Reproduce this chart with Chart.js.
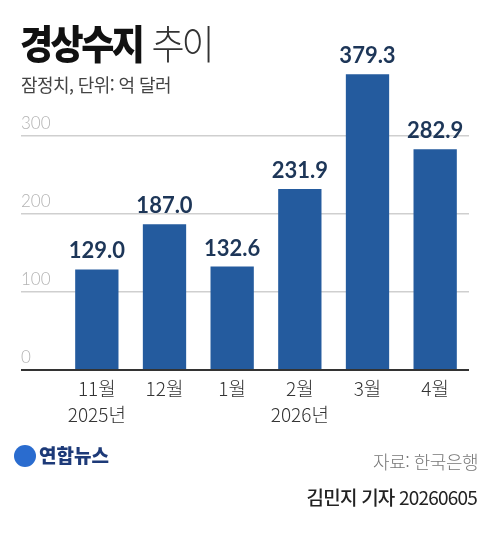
<!DOCTYPE html>
<html lang="ko">
<head>
<meta charset="utf-8">
<script src="https://cdn.jsdelivr.net/npm/chart.js@4.4.1/dist/chart.umd.min.js"></script>
<style>
  html, body { margin: 0; padding: 0; background: #fff; }
  body { width: 499px; height: 542px; position: relative; overflow: hidden; font-family: "Noto Sans CJK KR", "Noto Sans", sans-serif; }
  #wrap { position: absolute; left: 0; top: 0; width: 499px; height: 542px; }
  .txt { position: absolute; white-space: nowrap; line-height: 1; }
  #title { left: 20px; top: 22px; font-size: 36px; color: #111; transform: scaleY(1.1); transform-origin: 0 0; }
  #title b { font-weight: 900; letter-spacing: -2.5px; }
  #title span { font-weight: 300; color: #333; letter-spacing: -3px; margin-left: 9px; }
  #sub { left: 21px; top: 75px; font-size: 18px; color: #444; font-weight: 400; letter-spacing: -0.6px; }
  #logo { left: 14px; top: 445px; font-size: 19px; font-weight: 900; color: #1d3a78; }
  #logo i { display: inline-block; width: 22px; height: 22px; border-radius: 50%; background: #2a6ccf; vertical-align: -4px; margin-right: 3px; }
  #src { right: 21px; top: 452px; font-size: 18px; color: #777; font-weight: 300; letter-spacing: -0.5px; }
  #by { right: 22px; top: 487px; font-size: 19px; color: #222; font-weight: 400; letter-spacing: -0.8px; }
  #by b { font-weight: 500; }
</style>
</head>
<body>
<div id="wrap"><canvas id="barChart" width="499" height="542"></canvas></div>
<div class="txt" id="title"><b>경상수지</b><span>추이</span></div>
<div class="txt" id="sub">잠정치, 단위: 억 달러</div>
<div class="txt" id="logo"><i></i>연합뉴스</div>
<div class="txt" id="src">자료: 한국은행</div>
<div class="txt" id="by"><b>김민지 기자</b> 20260605</div>
<script>
// 월별 경상수지 (억 달러)
const months = ['11월', '12월', '1월', '2월', '3월', '4월'];
const years = ['2025년', '', '', '2026년', '', ''];
const values = [129.0, 187.0, 132.6, 231.9, 379.3, 282.9];
const yTicks = [0, 100, 200, 300];

const labels = months.map((m, i) => years[i] ? [m, years[i]] : [m]);

// 막대 위 값 표시
const valueLabels = {
    id: 'valueLabels',
    afterDatasetsDraw(chart) {
        const ctx = chart.ctx;
        const meta = chart.getDatasetMeta(0);
        ctx.save();
        ctx.font = 'bold 22px Lato, "Noto Sans", sans-serif';
        ctx.fillStyle = '#1d3658';
        ctx.textAlign = 'center';
        ctx.textBaseline = 'bottom';
        meta.data.forEach((bar, i) => {
            ctx.fillText(values[i].toFixed(1), bar.x, bar.y - 7);
        });
        ctx.restore();
    }
};

const barChart = new Chart(document.getElementById('barChart'), {
    type: 'bar',
    data: {
        labels: labels,
        datasets: [{
            data: values,
            backgroundColor: '#245b9e',
            barPercentage: 0.64,
            categoryPercentage: 1
        }]
    },
    options: {
        responsive: false,
        animation: false,
        layout: { padding: { left: 21, right: 30, top: 58, bottom: 112 } },
        plugins: { legend: { display: false }, tooltip: { enabled: false } },
        scales: {
            x: {
                grid: { display: false, drawTicks: false },
                border: { display: false },
                ticks: {
                    color: '#333',
                    padding: 5,
                    font: { family: '"Noto Sans CJK KR", sans-serif', size: 19, weight: 300, lineHeight: 1.4 }
                },
                afterFit: (scale) => { scale.height = 60; }
            },
            y: {
                min: 0,
                max: 400,
                afterBuildTicks: (scale) => { scale.ticks = yTicks.map(v => ({ value: v })); },
                grid: {
                    color: (c) => c.tick && c.tick.value === 0 ? '#333' : '#cfcfcf',
                    lineWidth: (c) => c.tick && c.tick.value === 0 ? 2 : 1.5,
                    tickLength: 42
                },
                border: { display: false },
                ticks: {
                    color: '#b3b3b3',
                    crossAlign: 'far',
                    labelOffset: -12,
                    font: { family: 'Lato, "Noto Sans", sans-serif', size: 17, weight: 300 }
                },
                afterFit: (scale) => { scale.width = 42; }
            }
        }
    },
    plugins: [valueLabels]
});
</script>
</body>
</html>
